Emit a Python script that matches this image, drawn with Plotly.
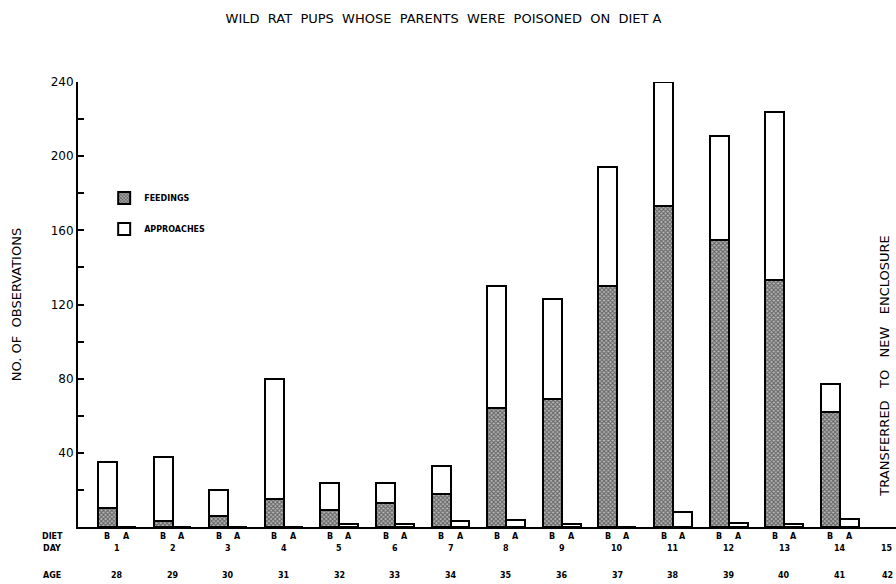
import plotly.graph_objects as go

# ---- data ----
days = list(range(1, 15))
day_labels = [str(d) for d in range(1, 16)]
age_labels = [str(a) for a in range(28, 43)]
feedings_B = [10, 3, 6, 15, 9, 13, 18, 64, 69, 130, 173, 155, 133, 62]
approaches_B = [25, 35, 14, 65, 15, 11, 15, 66, 54, 64, 67, 56, 91, 15]
approaches_A = [0, 0, 0, 0, 1.5, 1.5, 3, 4, 1.5, 0, 8, 2, 1.5, 4.5]
diet_labels = ["B", "A"]
y_tick_vals = [40, 80, 120, 160, 200, 240]
title_text = "WILD  RAT  PUPS  WHOSE  PARENTS  WERE  POISONED  ON  DIET A"
side_text = "TRANSFERRED   TO   NEW   ENCLOSURE"

OFF = 0.17
W = 0.34
xB = [d - OFF for d in days]
xA = [d + OFF for d in days]

FONT = "DejaVu Sans"
fig = go.Figure()
fig.add_trace(go.Bar(
    x=xB, y=feedings_B, width=W, name="<b>FEEDINGS</b>", legendgroup="f",
    marker=dict(color="#999", line=dict(color="black", width=2),
                pattern=dict(shape="x", fgcolor="#111", bgcolor="#bbb", size=3, solidity=0.6)),
))
fig.add_trace(go.Bar(
    x=xB, y=approaches_B, width=W, name="<b>APPROACHES</b>", legendgroup="a",
    marker=dict(color="white", line=dict(color="black", width=2)),
))
fig.add_trace(go.Bar(
    x=xA, y=approaches_A, width=W, name="APPROACHES", legendgroup="a", showlegend=False,
    marker=dict(color="white", line=dict(color="black", width=2)),
))

ann = []
# bottom rows
for lab, ys in [("DIET", -9), ("DAY", -21), ("AGE", -48)]:
    ann.append(dict(text="<b>" + lab + "</b>", xref="paper", yref="y", x=0, y=0, xshift=-26, yshift=ys,
                    showarrow=False, font=dict(family=FONT, size=8, color="black"),
                    xanchor="center", yanchor="middle"))
for d in days:
    for lab, xx in zip(diet_labels, [d - OFF, d + OFF]):
        ann.append(dict(text="<b>" + lab + "</b>", xref="x", yref="y", x=xx, y=0, yshift=-9,
                        showarrow=False, font=dict(family=FONT, size=8, color="black"),
                        xanchor="center", yanchor="middle"))
n_lab = len(day_labels)
for i, (dl, al) in enumerate(zip(day_labels, age_labels)):
    xs = -8 if i == n_lab - 1 else 0
    ann.append(dict(text="<b>" + dl + "</b>", xref="x", yref="y", x=i + 1, y=0, yshift=-21, xshift=xs,
                    showarrow=False, font=dict(family=FONT, size=8, color="black"),
                    xanchor="center", yanchor="middle"))
    ann.append(dict(text="<b>" + al + "</b>", xref="x", yref="y", x=i + 1, y=0, yshift=-48, xshift=xs,
                    showarrow=False, font=dict(family=FONT, size=8, color="black"),
                    xanchor="center", yanchor="middle"))
ann.append(dict(text=side_text, xref="paper", yref="y", x=1, y=80, xshift=-11, yshift=13, textangle=-90,
                showarrow=False, font=dict(family=FONT, size=13, color="black"),
                xanchor="center", yanchor="middle"))

fig.update_layout(
    width=896, height=584,
    barmode="stack",
    plot_bgcolor="white", paper_bgcolor="white",
    margin=dict(l=78, r=0, t=82, b=57),
    title=dict(text=title_text, x=0.495, xanchor="center", y=0.968, yanchor="middle",
               font=dict(family=FONT, size=13, color="black")),
    font=dict(family=FONT, color="black"),
    showlegend=True,
    legend=dict(x=0.032, y=0.772, xanchor="left", yanchor="top", bgcolor="rgba(0,0,0,0)",
                font=dict(family=FONT, size=8, color="black"), tracegroupgap=12,
                traceorder="grouped"),
    annotations=ann,
    xaxis=dict(range=[0.30, 15.01], showline=True, linecolor="black", linewidth=2,
               showticklabels=False, ticks="", showgrid=False, zeroline=False),
    yaxis=dict(range=[0, 240], showline=True, linecolor="black", linewidth=2,
               tickvals=y_tick_vals, ticks="inside", ticklen=6, tickwidth=2, tickcolor="black",
               minor=dict(dtick=20, tick0=0, ticks="inside", ticklen=6, tickwidth=2, tickcolor="black"),
               showgrid=False, zeroline=False,
               tickfont=dict(family=FONT, size=12, color="black"),
               title=dict(text="NO. OF  OBSERVATIONS", font=dict(family=FONT, size=13, color="black"),
                          standoff=26)),
)

fig.write_html("out.html", config={"displayModeBar": False},
               post_script="document.body.style.margin='0';document.body.style.overflow='hidden';")
